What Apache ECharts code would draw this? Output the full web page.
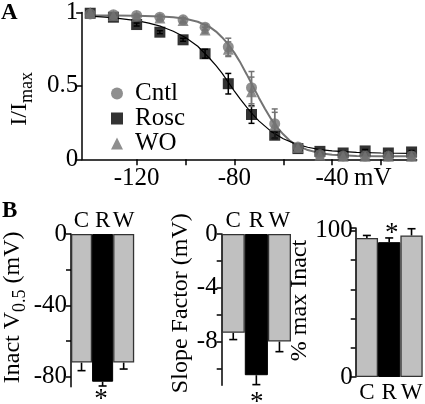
<!DOCTYPE html>
<html><head><meta charset="utf-8">
<script src="https://cdn.jsdelivr.net/npm/echarts@6/dist/echarts.min.js"></script>
<style>html,body{margin:0;padding:0;background:#fff}#c{width:425px;height:404px}</style>
</head><body><div id="c"></div>
<script>
// ---- Panel A data ----
const voltages   = [-139, -129.5, -120, -110.5, -101, -92, -82.5, -73, -63.5, -54, -45, -35.5, -26.5, -17, -7.5];
const cntlValues = [0.99, 0.985, 0.98, 0.968, 0.95, 0.90, 0.765, 0.488, 0.243, 0.084, 0.032, 0.023, 0.022, 0.022, 0.022];
const cntlErrors = [0.01, 0.01, 0.01, 0.015, 0.015, 0.02, 0.06, 0.11, 0.10, 0.02, 0.01, 0.01, 0.01, 0.01, 0.01];
const roscValues = [0.995, 0.968, 0.918, 0.866, 0.814, 0.719, 0.515, 0.305, 0.164, 0.073, 0.054, 0.043, 0.057, 0.043, 0.05];
const roscErrors = [0.01, 0.01, 0.01, 0.01, 0.01, 0.03, 0.07, 0.06, 0.02, 0.01, 0.01, 0.01, 0.01, 0.01, 0.01];
const woValues   = [1.0, 0.98, 0.975, 0.962, 0.945, 0.88, 0.75, 0.46, 0.23, 0.08, 0.027, 0.02, 0.02, 0.02, 0.02];
const woErrors   = [0.01, 0.01, 0.01, 0.01, 0.015, 0.02, 0.05, 0.10, 0.09, 0.02, 0.01, 0.01, 0.01, 0.01, 0.01];
const cntlFitVoltages = [-139, -130, -120, -110, -105, -100, -95, -90, -87.5, -85, -82.5, -80, -77.5, -75, -72.5, -70, -67.5, -65, -62.5, -60, -57.5, -55, -50, -45, -40, -30, -20, -7];
const cntlFit = [0.98, 0.98, 0.978, 0.973, 0.967, 0.957, 0.937, 0.90, 0.87, 0.83, 0.783, 0.725, 0.657, 0.58, 0.50, 0.42, 0.345, 0.275, 0.218, 0.17, 0.13, 0.10, 0.063, 0.042, 0.031, 0.022, 0.02, 0.02];
const roscFitVoltages = [-139, -130, -120, -115, -110, -105, -100, -95, -90, -87.5, -85, -82.5, -80, -77.5, -75, -72.5, -70, -65, -60, -55, -50, -45, -40, -30, -20, -7];
const roscFit = [0.975, 0.965, 0.945, 0.928, 0.905, 0.872, 0.83, 0.77, 0.685, 0.638, 0.585, 0.525, 0.465, 0.408, 0.355, 0.306, 0.262, 0.19, 0.14, 0.105, 0.082, 0.066, 0.057, 0.047, 0.043, 0.041];
const xTickValues = [-120, -100, -80, -60, -40, -20];
const xLabelValues = [-120, -80, -40];
// ---- Panel B data ----
const categories = ['C', 'R', 'W'];
const v05Values = [-72.1, -82.8, -72.1];
const v05Errors = [4.5, 2.4, 3.6];
const slopeValues = [-7.35, -10.5, -8.0];
const slopeErrors = [0.5, 0.7, 0.75];
const maxInactValues = [95.2, 92.3, 96.9];
const maxInactErrors = [1.7, 2.9, 4.6];
const v05Ticks = [0, -20, -40, -60, -80], v05Labels = [0, -40, -80];
const slopeTicks = [0, -2, -4, -6, -8, -10], slopeLabels = [0, -4, -8];

const GRAY = '#737373', BARGRAY = '#c0c0c0';
const FONT = "'Liberation Serif', 'DejaVu Serif', serif";
const FS = 25;
const axisLine = {show: true, lineStyle: {color: '#000', width: 1.5}};

function pairs(xs, ys) { return xs.map((x, i) => [x, ys[i]]); }
function triples(xs, ys, es) { return xs.map((x, i) => [x, ys[i], es[i]]); }

function errRenderA(color) {
  return function (params, api) {
    const x = api.value(0), y = api.value(1), e = api.value(2);
    const p1 = api.coord([x, y + e]), p2 = api.coord([x, y - e]);
    const cw = 3;
    const st = {stroke: color, lineWidth: 1.5};
    return {type: 'group', children: [
      {type: 'line', shape: {x1: p1[0], y1: p1[1], x2: p2[0], y2: p2[1]}, style: st},
      {type: 'line', shape: {x1: p1[0] - cw, y1: p1[1], x2: p1[0] + cw, y2: p1[1]}, style: st},
      {type: 'line', shape: {x1: p2[0] - cw, y1: p2[1], x2: p2[0] + cw, y2: p2[1]}, style: st}
    ]};
  };
}
function errRenderBar(dir) {
  return function (params, api) {
    const i = api.value(0), v = api.value(1), e = api.value(2);
    const p1 = api.coord([i, v]), p2 = api.coord([i, v + dir * e]);
    const cw = 4;
    const st = {stroke: '#000', lineWidth: 1.6};
    return {type: 'group', children: [
      {type: 'line', shape: {x1: p1[0], y1: p1[1], x2: p2[0], y2: p2[1]}, style: st},
      {type: 'line', shape: {x1: p2[0] - cw, y1: p2[1], x2: p2[0] + cw, y2: p2[1]}, style: st}
    ]};
  };
}
function barData(vals) {
  return vals.map((v, i) => ({
    value: v,
    itemStyle: i === 1 ? {color: '#000', borderColor: '#000', borderWidth: 1} : {color: BARGRAY, borderColor: '#333', borderWidth: 1.3}
  }));
}
const catAxisBase = {
  type: 'category', data: categories,
  axisLine: {show: false}, axisTick: {show: false},
  axisLabel: {interval: 0, fontFamily: FONT, fontSize: 23, color: '#000', margin: 2}
};
const nameStyle = {fontFamily: FONT, fontSize: 24, color: '#000'};
const subRich = {
  a: {fontFamily: FONT, fontSize: 24, color: '#000', verticalAlign: 'top'},
  b: {fontFamily: FONT, fontSize: 18, color: '#000', verticalAlign: 'bottom', padding: [10, 0, 0, 0]}
};

const chart = echarts.init(document.getElementById('c'), null, {renderer: 'canvas'});
chart.setOption({
  animation: false,
  backgroundColor: '#fff',
  grid: [
    {left: 79, top: 11.5, width: 337.7, height: 147.8},
    {left: 66.7, top: 234, width: 67.5, height: 152.7},
    {left: 221.7, top: 234, width: 69.3, height: 151.3},
    {left: 355.7, top: 228, width: 69.3, height: 153.7}
  ],
  xAxis: [
    {gridIndex: 0, type: 'value', min: -142.3, max: -5.4, axisLine: axisLine,
     splitLine: {show: false},
     axisTick: {show: true, length: 6, customValues: xTickValues, lineStyle: {color: '#000', width: 1.5}},
     axisLabel: {customValues: xLabelValues, fontFamily: FONT, fontSize: FS, color: '#000', margin: 7}},
    Object.assign({gridIndex: 1, position: 'top'}, catAxisBase),
    Object.assign({gridIndex: 2, position: 'top'}, catAxisBase),
    Object.assign({gridIndex: 3, position: 'bottom'}, catAxisBase, {axisLabel: Object.assign({}, catAxisBase.axisLabel, {margin: 4})})
  ],
  yAxis: [
    {gridIndex: 0, type: 'value', min: 0, max: 1, interval: 0.5, axisLine: axisLine, splitLine: {show: false},
     axisTick: {show: true, length: 6, lineStyle: {color: '#000', width: 1.5}},
     axisLabel: {fontFamily: FONT, fontSize: FS, color: '#000', margin: 4},
     name: '{a|I/I}{b|max}', nameLocation: 'middle', nameGap: 43, nameRotate: 90,
     nameTextStyle: {rich: subRich, padding: [0, 26, 0, 0]}},
    {gridIndex: 1, type: 'value', min: -85.6, max: 0, axisLine: axisLine, splitLine: {show: false},
     axisTick: {show: true, length: 5, customValues: v05Ticks, lineStyle: {color: '#000', width: 1.5}},
     axisLabel: {customValues: v05Labels, fontFamily: FONT, fontSize: FS, color: '#000', margin: 4},
     name: '{a|Inact V}{b|0.5}{a| (mV)}', nameLocation: 'middle', nameGap: 42, nameRotate: 90,
     nameTextStyle: {rich: subRich, padding: [0, 0, 0, 6]}},
    {gridIndex: 2, type: 'value', min: -11.25, max: 0, axisLine: axisLine, splitLine: {show: false},
     axisTick: {show: true, length: 5, customValues: slopeTicks, lineStyle: {color: '#000', width: 1.5}},
     axisLabel: {customValues: slopeLabels, fontFamily: FONT, fontSize: FS, color: '#000', margin: 4},
     name: 'Slope Factor (mV)', nameLocation: 'middle', nameGap: 29, nameRotate: 90,
     nameTextStyle: Object.assign({}, nameStyle, {padding: [0, 0, 0, 13]})},
    {gridIndex: 3, type: 'value', min: 0, max: 102, interval: 20, axisLine: axisLine, splitLine: {show: false},
     axisTick: {show: true, length: 5, lineStyle: {color: '#000', width: 1.5}},
     axisLabel: {fontFamily: FONT, fontSize: FS, color: '#000', margin: 3,
                 formatter: v => (v === 0 || v === 100) ? String(v) : ''},
     name: '% max Inact', nameLocation: 'middle', nameGap: 26, nameRotate: 90,
     nameTextStyle: Object.assign({}, nameStyle, {padding: [0, 0, 0, 4]})}
  ],
  legend: {
    orient: 'vertical', left: 106, top: 76, itemWidth: 12, itemHeight: 12, itemGap: 0,
    formatter: name => '{s|}' + name,
    textStyle: {fontFamily: FONT, fontSize: FS, color: '#000', lineHeight: 21.5,
                rich: {s: {width: 7}}},
    data: [{name: 'Cntl', icon: 'circle'}, {name: 'Rosc', icon: 'rect'}, {name: 'WO', icon: 'triangle'}]
  },
  series: [
    {type: 'line', name: 'Cntl fit', xAxisIndex: 0, yAxisIndex: 0, data: pairs(cntlFitVoltages, cntlFit),
     smooth: false, showSymbol: false, symbol: 'none', lineStyle: {color: GRAY, width: 2}, z: 1},
    {type: 'line', name: 'Rosc fit', xAxisIndex: 0, yAxisIndex: 0, data: pairs(roscFitVoltages, roscFit),
     smooth: false, showSymbol: false, symbol: 'none', lineStyle: {color: '#000', width: 1.2}, z: 1},
    {type: 'custom', name: 'Rosc err', xAxisIndex: 0, yAxisIndex: 0, data: triples(voltages, roscValues, roscErrors),
     renderItem: errRenderA('#000'), z: 2},
    {type: 'custom', name: 'Cntl err', xAxisIndex: 0, yAxisIndex: 0, data: triples(voltages, cntlValues, cntlErrors),
     renderItem: errRenderA(GRAY), z: 2},
    {type: 'custom', name: 'WO err', xAxisIndex: 0, yAxisIndex: 0, data: triples(voltages, woValues, woErrors),
     renderItem: errRenderA(GRAY), z: 2},
    {type: 'scatter', name: 'Rosc', xAxisIndex: 0, yAxisIndex: 0, data: pairs(voltages, roscValues),
     symbol: 'rect', symbolSize: 11, itemStyle: {color: '#000'}, z: 3},
    {type: 'scatter', name: 'Cntl', xAxisIndex: 0, yAxisIndex: 0, data: pairs(voltages, cntlValues),
     symbol: 'circle', symbolSize: 11, itemStyle: {color: GRAY}, z: 4},
    {type: 'scatter', name: 'WO', xAxisIndex: 0, yAxisIndex: 0, data: pairs(voltages, woValues),
     symbol: 'triangle', symbolSize: 11, itemStyle: {color: GRAY}, z: 4},
    // Panel B
    {type: 'bar', xAxisIndex: 1, yAxisIndex: 1, data: barData(v05Values), barCategoryGap: '0%', barWidth: '100%'},
    {type: 'custom', xAxisIndex: 1, yAxisIndex: 1, data: categories.map((c, i) => [i, v05Values[i], v05Errors[i]]),
     renderItem: errRenderBar(-1), z: 3},
    {type: 'bar', xAxisIndex: 2, yAxisIndex: 2, data: barData(slopeValues), barCategoryGap: '0%', barWidth: '100%'},
    {type: 'custom', xAxisIndex: 2, yAxisIndex: 2, data: categories.map((c, i) => [i, slopeValues[i], slopeErrors[i]]),
     renderItem: errRenderBar(-1), z: 3},
    {type: 'bar', xAxisIndex: 3, yAxisIndex: 3, data: barData(maxInactValues), barCategoryGap: '0%', barWidth: '100%'},
    {type: 'custom', xAxisIndex: 3, yAxisIndex: 3, data: categories.map((c, i) => [i, maxInactValues[i], maxInactErrors[i]]),
     renderItem: errRenderBar(1), z: 3}
  ],
  graphic: [
    {type: 'text', left: 1, top: 2, style: {text: 'A', font: "bold 23px " + FONT, fill: '#000'}},
    {type: 'text', left: 2, top: 200, style: {text: 'B', font: "bold 23px " + FONT, fill: '#000'}},
    {type: 'text', x: 354, y: 166.3, style: {text: 'mV', font: FS + "px " + FONT, fill: '#000', verticalAlign: 'top'}},
    {type: 'text', x: 101, y: 400, style: {text: '*', font: "27px " + FONT, fill: '#000', align: 'center', verticalAlign: 'middle'}},
    {type: 'text', x: 256.7, y: 403, style: {text: '*', font: "27px " + FONT, fill: '#000', align: 'center', verticalAlign: 'middle'}},
    {type: 'text', x: 391.7, y: 234, style: {text: '*', font: "27px " + FONT, fill: '#000', align: 'center', verticalAlign: 'middle'}}
  ]
});
</script></body></html>
